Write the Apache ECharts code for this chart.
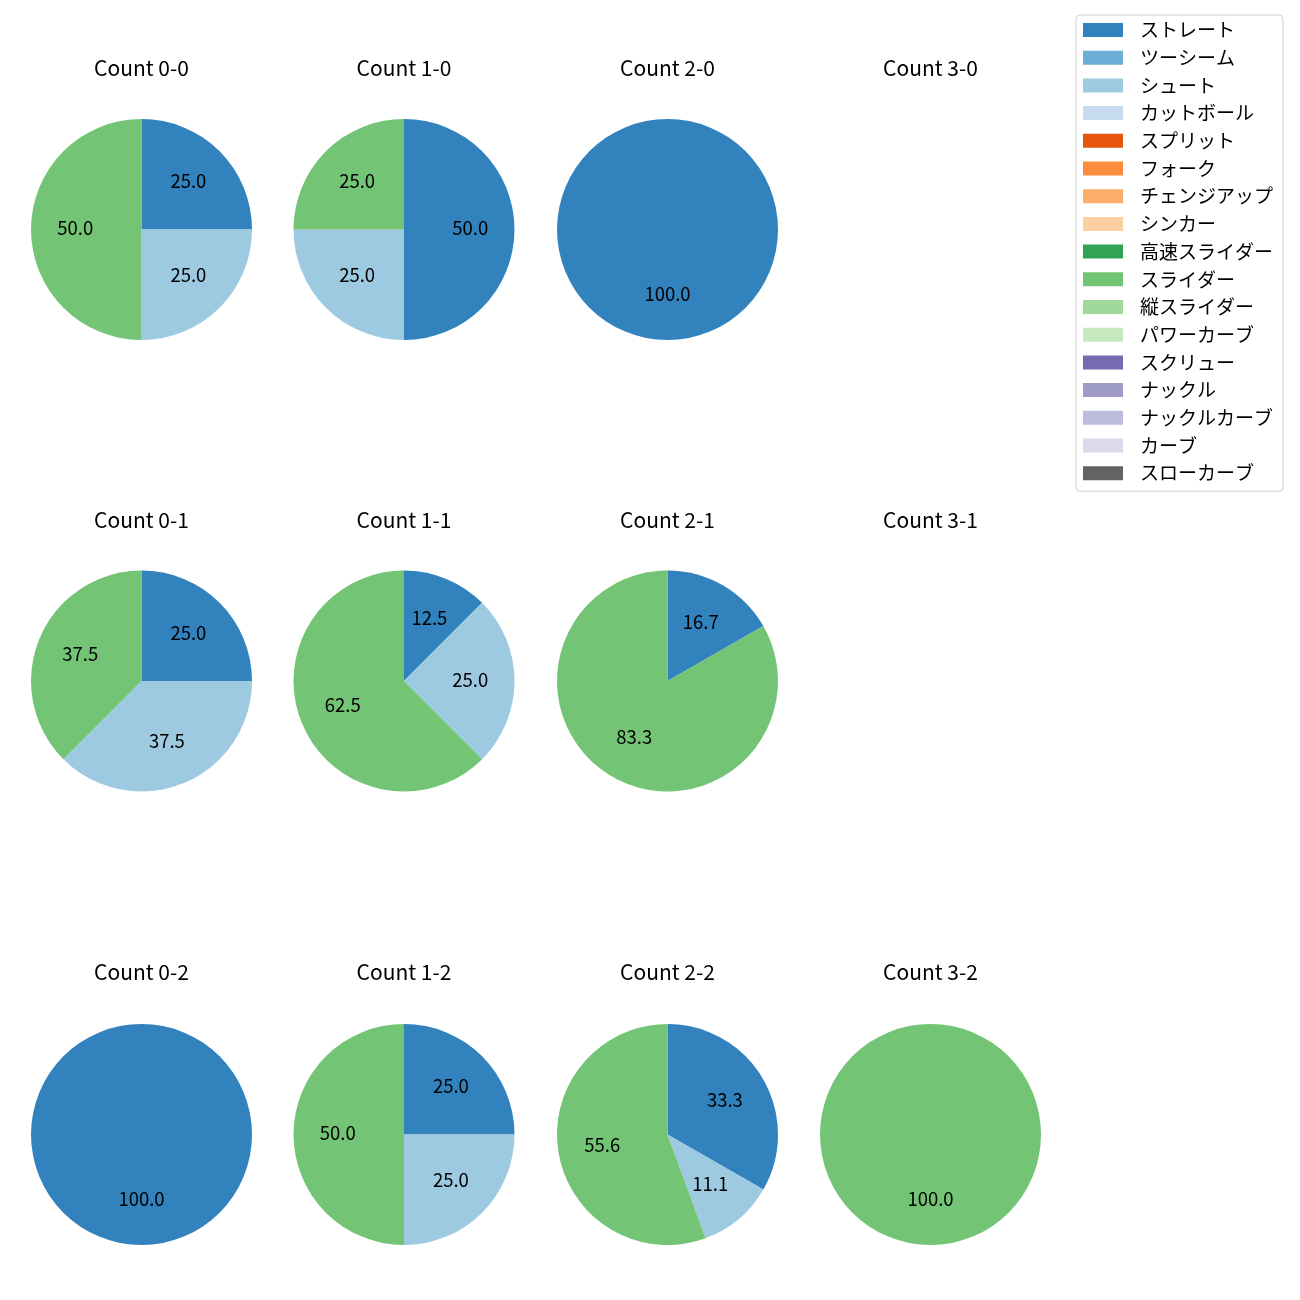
<!DOCTYPE html>
<html><head><meta charset="utf-8">
<script src="https://cdn.jsdelivr.net/npm/echarts@6/dist/echarts.min.js"></script>
<style>html,body{margin:0;padding:0;background:#fff}#c{width:1300px;height:1300px}</style>
</head><body><div id="c"></div>
<script>
const pitchNames = ['ストレート','ツーシーム','シュート','カットボール','スプリット','フォーク','チェンジアップ','シンカー','高速スライダー','スライダー','縦スライダー','パワーカーブ','スクリュー','ナックル','ナックルカーブ','カーブ','スローカーブ'];
const pitchColors = ['#3182bd','#6baed6','#9ecae1','#c6dbef','#e6550d','#fd8d3c','#fdae6b','#fdd0a2','#31a354','#74c476','#a1d99b','#c7e9c0','#756bb1','#9e9ac8','#bcbddc','#dadaeb','#636363'];
const countTitles = ['Count 0-0','Count 1-0','Count 2-0','Count 3-0','Count 0-1','Count 1-1','Count 2-1','Count 3-1','Count 0-2','Count 1-2','Count 2-2','Count 3-2'];
// pitch shares per count: [ストレート, シュート, スライダー]
const pieNames = ['ストレート','シュート','スライダー'];
const count00 = [25, 25, 50];
const count10 = [50, 25, 25];
const count20 = [100, 0, 0];
const count30 = [];
const count01 = [25, 37.5, 37.5];
const count11 = [12.5, 25, 62.5];
const count21 = [16.7, 0, 83.3];
const count31 = [];
const count02 = [100, 0, 0];
const count12 = [25, 25, 50];
const count22 = [33.3, 11.1, 55.6];
const count32 = [0, 0, 100];
const allCounts = [count00,count10,count20,count30,count01,count11,count21,count31,count02,count12,count22,count32];

const colX = [141.5, 404, 667.5, 930.5];
const rowY = [229.5, 681, 1134.5];
const titleY = [58, 510, 962];
const R = 110.5;
const font = '"Noto Sans CJK JP", "Noto Sans", sans-serif';
const colorOf = n => pitchColors[pitchNames.indexOf(n)];

const titles = [];
const series = [];
allCounts.forEach((vals, i) => {
  const c = i % 4, r = Math.floor(i / 4);
  titles.push({text: countTitles[i], left: colX[c], top: titleY[r], textAlign: 'center', padding: 0,
    textStyle: {fontFamily: font, fontSize: 21, fontWeight: 'normal', color: '#000'}});
  const data = [];
  vals.forEach((v, k) => { if (v > 0) data.push({name: pieNames[k], value: v, itemStyle: {color: colorOf(pieNames[k])}}); });
  if (!data.length) return;
  series.push({type: 'pie', center: [colX[c], rowY[r]], radius: [0, R], startAngle: 90, clockwise: true,
    silent: true, label: {show: false}, labelLine: {show: false}, emphasis: {disabled: true}, data: data});
  series.push({type: 'pie', center: [colX[c], rowY[r]], radius: [R * 0.2 - 6, R], startAngle: 90, clockwise: true,
    silent: true, percentPrecision: 2, labelLine: {show: false}, emphasis: {disabled: true},
    itemStyle: {color: 'rgba(0,0,0,0)'},
    label: {show: true, position: 'inside', offset: [0, -1.5], fontFamily: font, fontSize: 18.5, color: '#000',
      formatter: p => p.percent.toFixed(1)},
    data: data.map(d => ({name: d.name, value: d.value, itemStyle: {color: 'rgba(0,0,0,0)'}}))});
});
// legend provider series (invisible)
series.push({type: 'pie', center: [-500, -500], radius: [0, 1], silent: true, label: {show: false},
  data: pitchNames.map((n, k) => ({name: n, value: 1, itemStyle: {color: pitchColors[k]}}))});

const chart = echarts.init(document.getElementById('c'), null, {renderer: 'canvas'});
chart.setOption({
  animation: false,
  title: titles,
  legend: {orient: 'vertical', right: 17, top: 15, data: pitchNames, icon: 'rect', itemWidth: 40, itemHeight: 14,
    itemGap: 8.7, padding: [5.5, 10, 8.5, 7], borderColor: '#d0d0d0', borderWidth: 1, borderRadius: 4,
    selectedMode: false, textStyle: {fontFamily: font, fontSize: 19, color: '#000', padding: [0, 0, 0, 12]}},
  series: series
});
</script></body></html>
